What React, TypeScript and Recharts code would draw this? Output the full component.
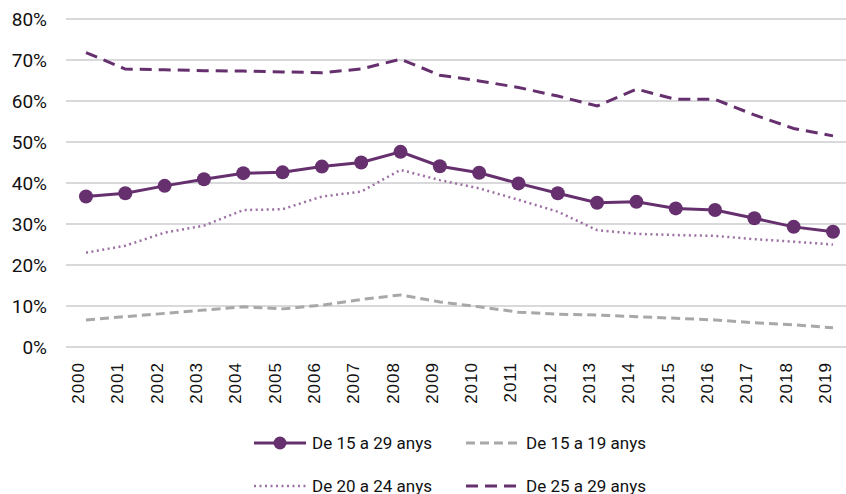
import { LineChart, Line, XAxis, YAxis, CartesianGrid, Legend } from 'recharts';

const years = ['2000', '2001', '2002', '2003', '2004', '2005', '2006', '2007', '2008', '2009',
  '2010', '2011', '2012', '2013', '2014', '2015', '2016', '2017', '2018', '2019'];

const age15to29 = [36.7, 37.5, 39.3, 40.9, 42.4, 42.6, 44.0, 45.0, 47.6, 44.1,
  42.5, 39.9, 37.5, 35.2, 35.4, 33.8, 33.4, 31.4, 29.3, 28.1];
const age15to19 = [6.6, 7.4, 8.2, 9.0, 9.8, 9.3, 10.2, 11.6, 12.7, 11.0,
  9.8, 8.5, 8.0, 7.8, 7.4, 7.0, 6.6, 5.9, 5.4, 4.7];
const age20to24 = [23.0, 24.7, 27.9, 29.6, 33.4, 33.6, 36.7, 37.9, 43.2, 40.7,
  38.7, 35.9, 33.0, 28.5, 27.6, 27.3, 27.1, 26.3, 25.7, 25.0];
const age25to29 = [71.8, 67.8, 67.6, 67.4, 67.3, 67.1, 66.9, 67.8, 70.2, 66.3,
  64.9, 63.3, 61.2, 58.8, 62.9, 60.4, 60.4, 56.6, 53.3, 51.5];

const yTicks = [0, 10, 20, 30, 40, 50, 60, 70, 80];

const PURPLE = '#66306f';
const LILAC = '#9c70a3';
const GREY = '#a8a8a8';

const data = years.map((year, i) => ({
  year,
  a: age15to29[i],
  b: age15to19[i],
  c: age20to24[i],
  d: age25to29[i],
}));

const FONT = 'Roboto, "DejaVu Sans", sans-serif';

function YearTick({ x, y, payload }: { x: number; y: number; payload: { value: string } }) {
  const ty = y + 15;
  return (
    <text
      x={x}
      y={ty}
      dy={-2}
      transform={`rotate(-90 ${x} ${ty})`}
      textAnchor="end"
      fontFamily='"Liberation Sans", Arial, sans-serif'
      fontSize={17}
      letterSpacing={1}
      fill="#111"
    >
      {payload.value}
    </text>
  );
}

// legend items, two per row
const legendRows = [
  [
    { label: 'De 15 a 29 anys', color: PURPLE, dash: undefined, width: 3, dot: true },
    { label: 'De 15 a 19 anys', color: GREY, dash: '9 5', width: 3, dot: false },
  ],
  [
    { label: 'De 20 a 24 anys', color: LILAC, dash: '2 3.5', width: 2.5, dot: false },
    { label: 'De 25 a 29 anys', color: PURPLE, dash: '12 7', width: 3, dot: false },
  ],
];

function ChartLegend() {
  return (
    <div style={{ fontFamily: FONT, fontSize: 17, color: '#111' }}>
      {legendRows.map((row, r) =>
        row.map((item, i) => (
          <div
            key={`${r}-${i}`}
            style={{ display: 'flex', alignItems: 'center', position: 'absolute', left: i === 0 ? 254 : 466, top: r * 43 }}
          >
            <svg width={52} height={20} style={{ display: 'block' }}>
              <line x1={0} y1={10} x2={52} y2={10} stroke={item.color} strokeWidth={item.width} strokeDasharray={item.dash} />
              {item.dot && <circle cx={26} cy={10} r={6.5} fill={item.color} />}
            </svg>
            <span style={{ marginLeft: i === 0 ? 6 : 8, whiteSpace: 'nowrap' }}>{item.label}</span>
          </div>
        ))
      )}
    </div>
  );
}

export default function App() {
  return (
    <div style={{ position: 'absolute', left: 0, top: 0, width: 846, height: 494, overflow: 'hidden', background: '#fff' }}>
      <LineChart width={860} height={494} data={data} margin={{ top: 19, right: 7, left: 0, bottom: 87 }}>
        <CartesianGrid vertical={false} stroke="#d9d9db" strokeWidth={2} />
        <XAxis
          dataKey="year"
          axisLine={false}
          tickLine={false}
          tickSize={0}
          tickMargin={0}
          height={60}
          interval={0}
          padding={{ left: 20, right: 20 }}
          tick={YearTick}
        />
        <YAxis
          domain={[0, 80]}
          ticks={yTicks}
          width={66}
          axisLine={false}
          tickLine={false}
          tickSize={0}
          tickMargin={19}
          tickFormatter={(v: number) => `${v}%`}
          tick={{ fontFamily: FONT, fontSize: 19, fill: '#111' }}
        />
        <Legend
          layout="vertical"
          verticalAlign="middle"
          align="center"
          wrapperStyle={{ position: 'absolute', left: 0, top: 433, width: 846, height: 70 }}
          content={() => <ChartLegend />}
        />
        <Line dataKey="c" name="De 20 a 24 anys" stroke={LILAC} strokeWidth={2.5} strokeDasharray="2 3.5" dot={false} isAnimationActive={false} />
        <Line dataKey="b" name="De 15 a 19 anys" stroke={GREY} strokeWidth={3} strokeDasharray="9 5" dot={false} isAnimationActive={false} />
        <Line dataKey="d" name="De 25 a 29 anys" stroke={PURPLE} strokeWidth={3} strokeDasharray="12 7" dot={false} isAnimationActive={false} />
        <Line dataKey="a" name="De 15 a 29 anys" stroke={PURPLE} strokeWidth={3} dot={{ r: 7, fill: PURPLE, stroke: PURPLE, strokeWidth: 0 }} isAnimationActive={false} />
      </LineChart>
    </div>
  );
}
